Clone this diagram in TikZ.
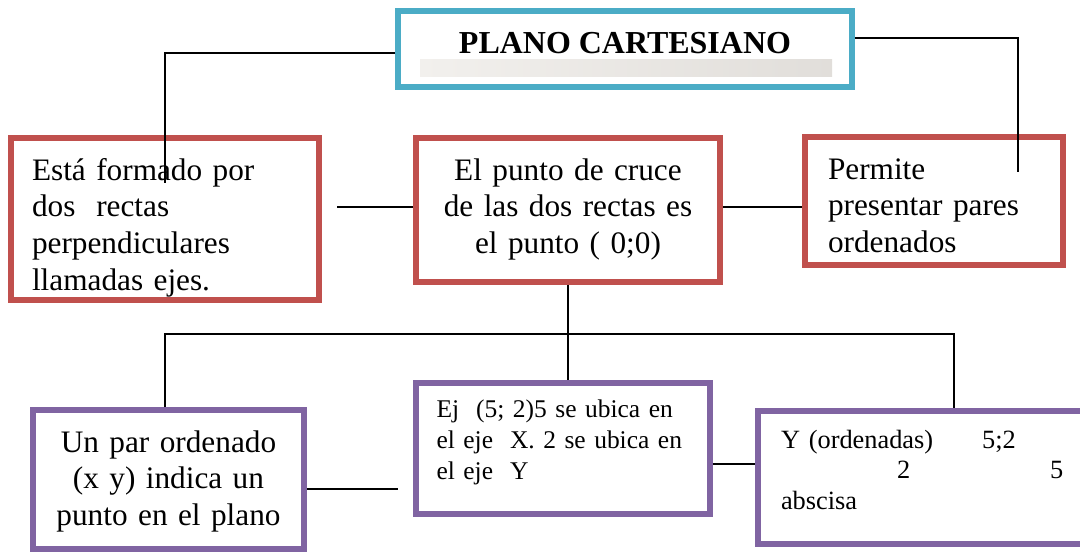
\documentclass[tikz,border=0pt]{standalone}
\usepackage{fontspec}
\setmainfont{Liberation Serif}
\usepackage{xcolor}
\usetikzlibrary{calc}
\definecolor{rojo}{RGB}{192,80,77}
\definecolor{lila}{RGB}{128,100,162}
\definecolor{azul}{RGB}{75,172,198}
\definecolor{grisa}{RGB}{242,240,237}
\definecolor{grisb}{RGB}{225,222,218}
\newcommand{\letratitulo}{\fontsize{18.2}{21}\selectfont}
\newcommand{\letragrande}{\fontsize{17.8}{21}\selectfont}
\newcommand{\letrachica}{\fontsize{15}{17.6}\selectfont}

\begin{document}
\begin{tikzpicture}[x=0.02cm, y=-0.02cm,
    caja/.style={draw, line width=0.12cm, inner sep=0pt},
    cajaroja/.style={caja, draw=rojo, font=\letragrande},
    cajalila/.style={caja, draw=lila},
    linea/.style={black, line width=1pt}]
  \useasboundingbox (0,0) rectangle (1080,554);
  \clip (0,0) rectangle (1080,554);
  % title
  \node[caja, draw=azul, minimum width=9.08cm, minimum height=1.52cm,
    font=\bfseries\letratitulo, text height=0.42cm, text depth=0.24cm]
    (title) at (625,49) {PLANO CARTESIANO};
  \shade[left color=grisa, right color=grisb] (420,60) rectangle (832,77);
  % first row (red)
  \node[cajaroja, minimum width=6.16cm, minimum height=3.24cm, text width=5.32cm,
    align=left, text height=0.8cm, text depth=2.36cm] (lbox) at (165,219)
    {Está formado por\\ dos\ \ rectas\\ perpendiculares\\ llamadas ejes.};
  \node[cajaroja, minimum width=6.08cm, minimum height=2.88cm, text width=5.6cm,
    align=center, text height=0.6cm, text depth=1.8cm] (mbox) at (568,210)
    {El punto de cruce\\ de las dos rectas es\\ el punto ( 0;0)};
  \node[cajaroja, minimum width=5.16cm, minimum height=2.56cm, text width=4.24cm,
    align=left, text height=0.72cm, text depth=1.6cm] (rbox) at (934,201)
    {Permite\\ presentar pares\\ ordenados};
  % second row (purple)
  \node[cajalila, font=\letragrande, minimum width=5.42cm, minimum height=2.78cm,
    text width=5.2cm, align=center, text height=0.7cm, text depth=1.8cm]
    (ubox) at (168.5,479.5)
    {Un par ordenado\\ (x y) indica un\\ punto en el plano};
  \node[cajalila, font=\fontsize{14.5}{17.6}\selectfont, minimum width=5.88cm,
    minimum height=2.62cm, text width=5.06cm, align=left, text height=0.52cm,
    text depth=1.76cm] (ejbox) at (563,448.5)
    {Ej\ \ (5; 2)5 se ubica en\\ el eje\ \ X. 2 se ubica en\\ el eje\ \ Y};
  \node[cajalila, font=\letrachica, minimum width=6.78cm, minimum height=2.66cm,
    text width=5.86cm, align=left, text height=0.48cm, text depth=1.66cm]
    (ybox) at (927.5,477.5)
    {Y (ordenadas)\hspace{0.98cm}5;2\\ \hspace*{2.32cm}2\hspace{2.8cm}5\\ abscisa};
  % connector ends
  \coordinate (lfin) at (165,183);
  \coordinate (rfin) at (1018,172);
  \coordinate (lcab) at (337,207);
  \coordinate (bizq) at (165,334);
  \coordinate (bder) at (954,334);
  \coordinate (ucab) at (398,489);
  \coordinate (ylink) at (735,464);
  % connectors
  \draw[linea] ([yshift=-0.08cm]title.west) -| (lfin);
  \draw[linea] ([yshift=0.22cm]title.east) -| (rfin);
  \draw[linea] (lcab) -- (lcab -| mbox.west);
  \draw[linea] (mbox.east |- lcab) -- (rbox.west |- lcab);
  \draw[linea] (mbox.south) -- (mbox.south |- ejbox.north);
  \draw[linea] (bizq |- ubox.north) -- (bizq) -- (bder) -- (bder |- ybox.north);
  \draw[linea] (ubox.east |- ucab) -- (ucab);
  \draw[linea] (ejbox.east |- ylink) -- (ybox.west |- ylink);
\end{tikzpicture}
\end{document}
